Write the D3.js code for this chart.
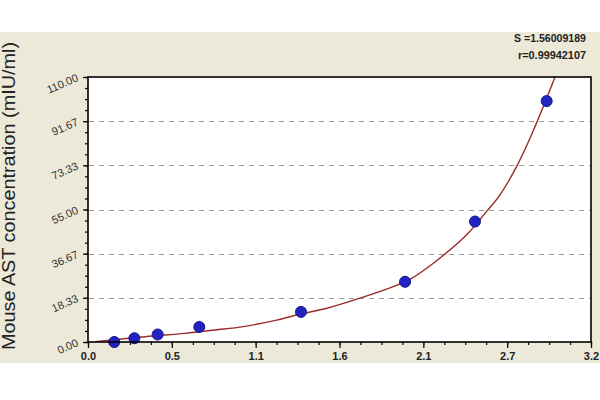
<!DOCTYPE html>
<html>
<head>
<meta charset="utf-8">
<script src="https://cdn.jsdelivr.net/npm/d3@7"></script>
<style>
  html, body { margin: 0; padding: 0; background: #ffffff; }
  svg { display: block; }
  text { font-family: "Liberation Sans", Arial, sans-serif; }
</style>
</head>
<body>
<svg id="chart" width="600" height="400"></svg>
<script>
// ---- data ----
const stdOD   = [0.167, 0.295, 0.443, 0.708, 1.355, 2.017, 2.462, 2.918];
const stdConc = [0, 1.56, 3.12, 6.25, 12.5, 25, 50, 100];

const curveOD   = [0.045, 0.363, 0.617, 0.808, 0.988, 1.200, 1.353, 1.519, 1.730, 1.942, 2.048, 2.197, 2.409, 2.536, 2.621, 2.727, 2.812, 2.897, 2.977];
const curveConc = [0.1,   2.2,   3.6,   5.0,   6.4,   9.1,   11.6,  14.0,  18.2,  23.0,  26.0,  32.7,  44.5,  54.2,  61.1,  72.9,  84.6,  97.8,  111.0];

const xTickValues = [0, 0.5333, 1.0667, 1.6, 2.1333, 2.6667, 3.2];
const xTickLabels = ["0.0", "0.5", "1.1", "1.6", "2.1", "2.7", "3.2"];
const yTickValues = [0, 18.333, 36.667, 55, 73.333, 91.667, 110];
const yTickLabels = ["0.00", "18.33", "36.67", "55.00", "73.33", "91.67", "110.00"];
const statLines   = ["S =1.56009189", "r=0.99942107"];
const yTitle = "Mouse AST concentration (mIU/ml)";

// ---- layout ----
const svg = d3.select("#chart");
const L = 88, R = 591, T = 77, B = 342;
const x = d3.scaleLinear().domain([0, 3.2]).range([L, R]);
const y = d3.scaleLinear().domain([0, 110]).range([B, T]);

// beige panel
svg.append("rect").attr("x", 0).attr("y", 32).attr("width", 600).attr("height", 331).attr("fill", "#ECE9D8");

// plot background
svg.append("rect").attr("x", L).attr("y", T).attr("width", R - L).attr("height", B - T).attr("fill", "#ffffff");

// clip
svg.append("clipPath").attr("id", "clip")
  .append("rect").attr("x", L).attr("y", T).attr("width", R - L).attr("height", B - T);

// gridlines
svg.append("g").selectAll("line")
  .data(yTickValues.slice(1, -1))
  .join("line")
  .attr("x1", L + 1).attr("x2", R - 1)
  .attr("y1", d => Math.round(y(d)) + 0.5).attr("y2", d => Math.round(y(d)) + 0.5)
  .attr("stroke", "#9a9a9a").attr("stroke-width", 1.2)
  .attr("stroke-dasharray", "5,5");

// minor ticks
const xMinor = d3.range(0, 25).map(i => i * 3.2 / 24);
const yMinor = d3.range(0, 25).map(i => i * 110 / 24);
svg.append("g").attr("transform", `translate(0,${B})`)
  .call(d3.axisBottom(x).tickValues(xMinor).tickSize(3).tickFormat(""))
  .call(g => g.select(".domain").remove())
  .selectAll("line").attr("stroke", "#111").attr("stroke-width", 1.3);
svg.append("g").attr("transform", `translate(${L},0)`)
  .call(d3.axisLeft(y).tickValues(yMinor).tickSize(3).tickFormat(""))
  .call(g => g.select(".domain").remove())
  .selectAll("line").attr("stroke", "#111").attr("stroke-width", 1.3);

// major x axis
const xAxis = svg.append("g").attr("transform", `translate(0,${B})`)
  .call(d3.axisBottom(x).tickValues(xTickValues).tickSize(6)
    .tickFormat((d, i) => xTickLabels[i]));
xAxis.select(".domain").remove();
xAxis.selectAll("line").attr("stroke", "#111").attr("stroke-width", 1.3);
xAxis.selectAll("text")
  .attr("y", 10).attr("dy", "0.71em")
  .attr("fill", "#222").attr("font-size", "11px").attr("font-weight", "bold")
  .attr("font-family", "'Liberation Sans', Arial, sans-serif");

// major y axis
const yAxis = svg.append("g").attr("transform", `translate(${L},0)`)
  .call(d3.axisLeft(y).tickValues(yTickValues).tickSize(5)
    .tickFormat((d, i) => yTickLabels[i]));
yAxis.select(".domain").remove();
yAxis.selectAll("line").attr("stroke", "#111").attr("stroke-width", 1.3);
yAxis.selectAll("text")
  .attr("x", 0).attr("y", 0).attr("dy", 0)
  .attr("text-anchor", "end")
  .attr("transform", "translate(-9,3) rotate(-24)")
  .attr("fill", "#333").attr("font-size", "11px")
  .attr("font-family", "'Liberation Sans', Arial, sans-serif");

// fitted curve
const curvePts = curveOD.map((v, i) => [v, curveConc[i]]);
svg.append("path")
  .datum(curvePts)
  .attr("clip-path", "url(#clip)")
  .attr("fill", "none")
  .attr("stroke", "#9b2b2b")
  .attr("stroke-width", 1.4)
  .attr("d", d3.line().x(d => x(d[0])).y(d => y(d[1])).curve(d3.curveCatmullRom));

// standard points
svg.append("g").selectAll("circle")
  .data(stdOD.map((v, i) => [v, stdConc[i]]))
  .join("circle")
  .attr("cx", d => x(d[0])).attr("cy", d => y(d[1]))
  .attr("r", 5.5)
  .attr("fill", "#2323c4")
  .attr("stroke", "#14148a").attr("stroke-width", 1);

// plot border
svg.append("rect").attr("x", L).attr("y", T).attr("width", R - L).attr("height", B - T)
  .attr("fill", "none").attr("stroke", "#000").attr("stroke-width", 1.6);

// stats text
svg.append("g").selectAll("text")
  .data(statLines)
  .join("text")
  .attr("x", 586).attr("y", (d, i) => 42 + i * 17)
  .attr("text-anchor", "end")
  .attr("font-size", "11px").attr("font-weight", "bold")
  .attr("fill", "#222")
  .attr("textLength", (d, i) => i === 0 ? 72 : 68)
  .attr("lengthAdjust", "spacingAndGlyphs")
  .text(d => d);

// y title
svg.append("text")
  .attr("transform", `translate(15,${(40 + 352) / 2}) rotate(-90)`)
  .attr("text-anchor", "middle")
  .attr("font-size", "17.5px")
  .attr("fill", "#222")
  .attr("textLength", 308)
  .attr("lengthAdjust", "spacingAndGlyphs")
  .text(yTitle);
</script>
</body>
</html>
